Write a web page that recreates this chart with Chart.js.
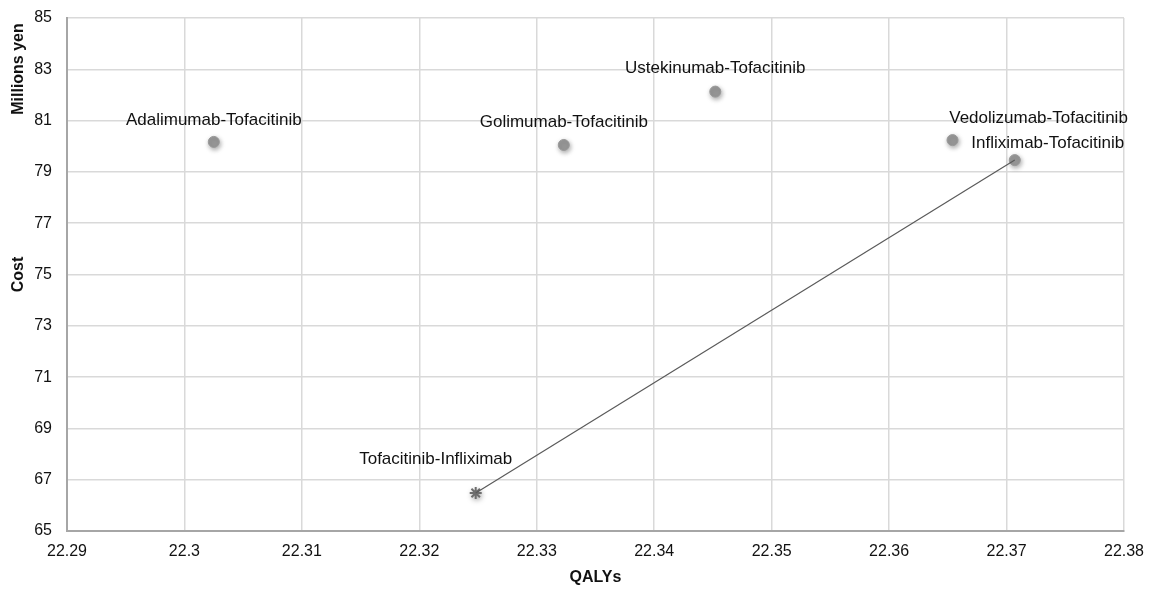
<!DOCTYPE html>
<html>
<head>
<meta charset="utf-8">
<script src="https://cdn.jsdelivr.net/npm/chart.js@4"></script>
<style>
  html, body { margin: 0; padding: 0; background: #ffffff; }
  #wrap { width: 1151px; height: 591px; position: relative; }
</style>
</head>
<body>
<div id="wrap"><canvas id="c" width="1151" height="591"></canvas></div>
<script>
// ---- Data ----
const strategies = [
  "Adalimumab-Tofacitinib",
  "Golimumab-Tofacitinib",
  "Ustekinumab-Tofacitinib",
  "Vedolizumab-Tofacitinib",
  "Infliximab-Tofacitinib",
  "Tofacitinib-Infliximab"
];
const qalys = [22.3025, 22.3323, 22.3452, 22.3654, 22.3707, 22.3248];
const costs = [80.17, 80.05, 82.13, 80.24, 79.46, 66.48];
// efficiency frontier: Tofacitinib-Infliximab -> Infliximab-Tofacitinib
const frontierIdx = [5, 4];
const xTickValues = [22.29, 22.30, 22.31, 22.32, 22.33, 22.34, 22.35, 22.36, 22.37, 22.38];
const yTickValues = [65, 67, 69, 71, 73, 75, 77, 79, 81, 83, 85];
const xTitle = "QALYs";
const yTitle = "Cost";
const yUnit = "Millions yen";

// ---- Styles (label offsets in px relative to the point) ----
const labelOffsets = [[0, -22], [0, -23], [0, -23], [86, -22], [33, -17], [-40, -34]];
const FONT = "'Liberation Sans', Arial, sans-serif";

const pointsData = qalys.map((q, i) => ({ x: q, y: costs[i] }));
const frontierData = frontierIdx.map(i => ({ x: qalys[i], y: costs[i] }));

const shadowPlugin = {
  id: 'shadow',
  beforeDatasetDraw(chart, args) {
    if (args.index === 1) {
      const ctx = chart.ctx;
      ctx.save();
      ctx.shadowColor = 'rgba(0,0,0,0.35)';
      ctx.shadowBlur = 5;
      ctx.shadowOffsetX = 1;
      ctx.shadowOffsetY = 2;
    }
  },
  afterDatasetDraw(chart, args) {
    if (args.index === 1) chart.ctx.restore();
  }
};

const labelPlugin = {
  id: 'labels',
  afterDatasetsDraw(chart) {
    const ctx = chart.ctx;
    const meta = chart.getDatasetMeta(1);
    ctx.save();
    ctx.font = "17px " + FONT;
    ctx.fillStyle = '#111111';
    ctx.textAlign = 'center';
    ctx.textBaseline = 'middle';
    meta.data.forEach((el, i) => {
      const o = labelOffsets[i];
      ctx.fillText(strategies[i], el.x + o[0], el.y + o[1]);
    });
    ctx.restore();
  }
};

const titlePlugin = {
  id: 'titles',
  afterDraw(chart) {
    const ctx = chart.ctx;
    const a = chart.chartArea;
    ctx.save();
    ctx.fillStyle = '#111111';
    ctx.font = "bold 16px " + FONT;
    ctx.textAlign = 'center';
    ctx.textBaseline = 'middle';
    ctx.fillText(xTitle, (a.left + a.right) / 2, 578);
    const yPix = chart.scales.y.getPixelForValue(75);
    ctx.save();
    ctx.translate(19, yPix);
    ctx.rotate(-Math.PI / 2);
    ctx.fillText(yTitle, 0, 0);
    ctx.restore();
    ctx.save();
    ctx.translate(19, 69);
    ctx.rotate(-Math.PI / 2);
    ctx.fillText(yUnit, 0, 0);
    ctx.restore();
    ctx.restore();
  }
};

new Chart(document.getElementById('c'), {
  type: 'scatter',
  data: {
    datasets: [
      {
        label: 'Frontier',
        data: frontierData,
        showLine: true,
        borderColor: '#5a5a5a',
        borderWidth: 1.2,
        pointRadius: 0,
        fill: false
      },
      {
        label: 'Strategies',
        data: pointsData,
        pointStyle: strategies.map((s, i) => i === 5 ? 'star' : 'circle'),
        pointRadius: strategies.map((s, i) => i === 5 ? 6 : 5.5),
        backgroundColor: '#999999',
        borderColor: strategies.map((s, i) => i === 5 ? '#6e6e6e' : '#999999'),
        borderWidth: strategies.map((s, i) => i === 5 ? 2 : 1)
      }
    ]
  },
  options: {
    responsive: false,
    animation: false,
    devicePixelRatio: 1,
    layout: { padding: { top: 18, right: 27, left: 0, bottom: 0 } },
    plugins: {
      legend: { display: false },
      tooltip: { enabled: false }
    },
    scales: {
      x: {
        type: 'linear',
        min: xTickValues[0],
        max: xTickValues[xTickValues.length - 1],
        afterBuildTicks(scale) { scale.ticks = xTickValues.map(v => ({ value: v })); },
        afterFit(scale) {
          scale.height = 60;
          scale.paddingLeft = 0; scale.paddingRight = 0;
        },
        ticks: {
          callback: v => String(+v.toFixed(2)),
          font: { family: FONT, size: 16 },
          color: '#111111',
          padding: 11,
          maxRotation: 0,
          autoSkip: false
        },
        grid: { color: '#d9d9d9', lineWidth: 1.5, drawTicks: false },
        border: { color: '#a6a6a6', width: 2 }
      },
      y: {
        type: 'linear',
        min: yTickValues[0],
        max: yTickValues[yTickValues.length - 1],
        afterBuildTicks(scale) { scale.ticks = yTickValues.map(v => ({ value: v })); },
        afterFit(scale) {
          scale.width = 67;
          scale.paddingTop = 0; scale.paddingBottom = 0;
        },
        ticks: {
          callback: v => String(v),
          font: { family: FONT, size: 16 },
          color: '#111111',
          padding: 15,
          autoSkip: false
        },
        grid: { color: '#d9d9d9', lineWidth: 1.5, drawTicks: false },
        border: { color: '#a6a6a6', width: 2 }
      }
    }
  },
  plugins: [shadowPlugin, labelPlugin, titlePlugin]
});
</script>
</body>
</html>
